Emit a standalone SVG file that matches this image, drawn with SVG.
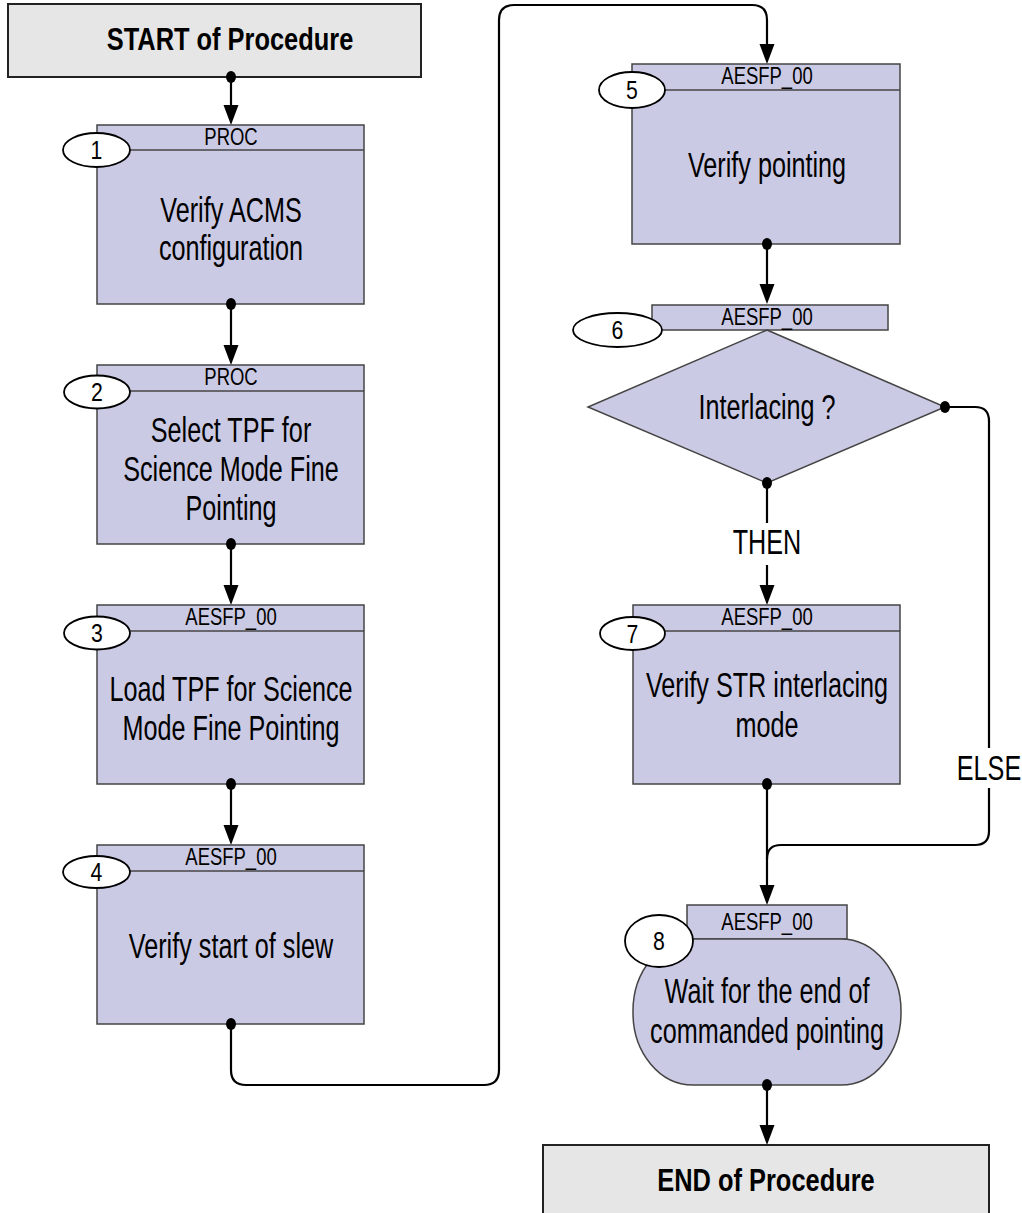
<svg xmlns="http://www.w3.org/2000/svg" width="1022" height="1213" viewBox="0 0 1022 1213">
  <defs>
    <style>
      .term { fill: #e6e6e6; stroke: #222; stroke-width: 2; }
      .step { fill: #cbcae4; stroke: #444; stroke-width: 1.5; }
      .num { fill: #fff; stroke: #000; stroke-width: 1.8; }
      .wire { fill: none; stroke: #000; stroke-width: 2.2; }
      .head { fill: #000; }
      .dot { fill: #000; }
      text { font-family: "Liberation Sans", Arial, sans-serif; fill: #000; text-anchor: middle; }
      .title { font-size: 31px; font-weight: bold; }
      .body { font-size: 35px; }
      .hdr { font-size: 24px; }
      .n { font-size: 25px; }
      .lbl { font-size: 35px; }
    </style>
  </defs>

  <!-- connectors -->
  <g id="connectors">
    <path class="wire" d="M231,77 V105"/>
    <path class="head" d="M223.5,105 H238.5 L231,125 Z"/>
    <path class="wire" d="M231,304 V345"/>
    <path class="head" d="M223.5,345 H238.5 L231,365 Z"/>
    <path class="wire" d="M231,544 V585"/>
    <path class="head" d="M223.5,585 H238.5 L231,605 Z"/>
    <path class="wire" d="M231,784 V825"/>
    <path class="head" d="M223.5,825 H238.5 L231,845 Z"/>
    <!-- step 4 to step 5 -->
    <path class="wire" d="M231,1024 V1070 Q231,1085 246,1085 H484 Q499,1085 499,1070 V20 Q499,5 514,5 H752 Q767,5 767,20 V44"/>
    <path class="head" d="M759.5,44 H774.5 L767,64 Z"/>
    <path class="wire" d="M767,244 V284"/>
    <path class="head" d="M759.5,284 H774.5 L767,304 Z"/>
    <!-- THEN branch -->
    <path class="wire" d="M767,483 V523"/>
    <path class="wire" d="M767,565 V585"/>
    <path class="head" d="M759.5,585 H774.5 L767,605 Z"/>
    <!-- ELSE branch -->
    <path class="wire" d="M945,407 H975 Q989,407 989,421 V748"/>
    <path class="wire" d="M989,788 V831 Q989,845 975,845 H781 Q767,845 767,859"/>
    <path class="wire" d="M767,784 V885"/>
    <path class="head" d="M759.5,885 H774.5 L767,905 Z"/>
    <path class="wire" d="M767,1085 V1125"/>
    <path class="head" d="M759.5,1125 H774.5 L767,1145 Z"/>
    <text class="lbl" transform="translate(767 554) scale(0.72 1)">THEN</text>
    <text class="lbl" transform="translate(989 780) scale(0.72 1)">ELSE</text>
  </g>

  <!-- start terminal -->
  <g id="start">
    <rect class="term" x="8" y="4" width="413" height="73"/>
    <text class="title" transform="translate(230 50) scale(0.82 1)">START of Procedure</text>
    <ellipse class="dot" cx="231" cy="77" rx="5" ry="6"/>
  </g>

  <!-- step 1 -->
  <g id="step1">
    <rect class="step" x="97" y="125" width="267" height="179"/>
    <line x1="97" y1="150" x2="364" y2="150" stroke="#444" stroke-width="1.5"/>
    <text class="hdr" transform="translate(231 145) scale(0.77 1)">PROC</text>
    <text class="body" transform="translate(231 222) scale(0.72 1)">Verify ACMS</text>
    <text class="body" transform="translate(231 260) scale(0.72 1)">configuration</text>
    <ellipse class="num" cx="96.5" cy="150" rx="33.5" ry="17"/>
    <text class="n" transform="translate(96.5 159) scale(0.85 1)">1</text>
    <ellipse class="dot" cx="231" cy="304" rx="5" ry="6"/>
  </g>

  <!-- step 2 -->
  <g id="step2">
    <rect class="step" x="97" y="365" width="267" height="179"/>
    <line x1="97" y1="391" x2="364" y2="391" stroke="#444" stroke-width="1.5"/>
    <text class="hdr" transform="translate(231 385) scale(0.77 1)">PROC</text>
    <text class="body" transform="translate(231 442) scale(0.72 1)">Select TPF for</text>
    <text class="body" transform="translate(231 481) scale(0.72 1)">Science Mode Fine</text>
    <text class="body" transform="translate(231 520) scale(0.72 1)">Pointing</text>
    <ellipse class="num" cx="97" cy="392" rx="33" ry="16.5"/>
    <text class="n" transform="translate(97 401) scale(0.85 1)">2</text>
    <ellipse class="dot" cx="231" cy="544" rx="5" ry="6"/>
  </g>

  <!-- step 3 -->
  <g id="step3">
    <rect class="step" x="97" y="605" width="267" height="179"/>
    <line x1="97" y1="631" x2="364" y2="631" stroke="#444" stroke-width="1.5"/>
    <text class="hdr" transform="translate(231 625) scale(0.77 1)">AESFP_00</text>
    <text class="body" transform="translate(231 701) scale(0.72 1)">Load TPF for Science</text>
    <text class="body" transform="translate(231 740) scale(0.72 1)">Mode Fine Pointing</text>
    <ellipse class="num" cx="97" cy="633" rx="33" ry="16.5"/>
    <text class="n" transform="translate(97 642) scale(0.85 1)">3</text>
    <ellipse class="dot" cx="231" cy="784" rx="5" ry="6"/>
  </g>

  <!-- step 4 -->
  <g id="step4">
    <rect class="step" x="97" y="845" width="267" height="179"/>
    <line x1="97" y1="871" x2="364" y2="871" stroke="#444" stroke-width="1.5"/>
    <text class="hdr" transform="translate(231 865) scale(0.77 1)">AESFP_00</text>
    <text class="body" transform="translate(231 958) scale(0.72 1)">Verify start of slew</text>
    <ellipse class="num" cx="96.5" cy="872" rx="33.5" ry="16"/>
    <text class="n" transform="translate(96.5 881) scale(0.85 1)">4</text>
    <ellipse class="dot" cx="231" cy="1024" rx="5" ry="6"/>
  </g>

  <!-- step 5 -->
  <g id="step5">
    <rect class="step" x="632" y="64" width="268" height="180"/>
    <line x1="632" y1="90" x2="900" y2="90" stroke="#444" stroke-width="1.5"/>
    <text class="hdr" transform="translate(767 84) scale(0.77 1)">AESFP_00</text>
    <text class="body" transform="translate(767 177) scale(0.72 1)">Verify pointing</text>
    <ellipse class="num" cx="632" cy="90" rx="33" ry="18"/>
    <text class="n" transform="translate(632 99) scale(0.85 1)">5</text>
    <ellipse class="dot" cx="767" cy="244" rx="5" ry="6"/>
  </g>

  <!-- step 6: decision -->
  <g id="step6">
    <rect class="step" x="652" y="305" width="236" height="25"/>
    <text class="hdr" transform="translate(767 325) scale(0.77 1)">AESFP_00</text>
    <polygon class="step" points="767,330 945,407 767,483 588,407"/>
    <text class="body" transform="translate(767 419) scale(0.72 1)">Interlacing ?</text>
    <ellipse class="num" cx="617.5" cy="330" rx="44.5" ry="17"/>
    <text class="n" transform="translate(617.5 339) scale(0.85 1)">6</text>
    <ellipse class="dot" cx="945" cy="407" rx="5" ry="6"/>
    <ellipse class="dot" cx="767" cy="483" rx="5" ry="6"/>
  </g>

  <!-- step 7 -->
  <g id="step7">
    <rect class="step" x="633" y="605" width="267" height="179"/>
    <line x1="633" y1="631" x2="900" y2="631" stroke="#444" stroke-width="1.5"/>
    <text class="hdr" transform="translate(767 625) scale(0.77 1)">AESFP_00</text>
    <text class="body" transform="translate(767 697) scale(0.72 1)">Verify STR interlacing</text>
    <text class="body" transform="translate(767 737) scale(0.72 1)">mode</text>
    <ellipse class="num" cx="632.5" cy="633.5" rx="32.5" ry="16.5"/>
    <text class="n" transform="translate(632.5 642.5) scale(0.85 1)">7</text>
    <ellipse class="dot" cx="767" cy="784" rx="5" ry="6"/>
  </g>

  <!-- step 8 -->
  <g id="step8">
    <rect class="step" x="687" y="905" width="160" height="34"/>
    <text class="hdr" transform="translate(767 930) scale(0.77 1)">AESFP_00</text>
    <rect class="step" x="633" y="939" width="268" height="146" rx="60" ry="72"/>
    <text class="body" transform="translate(767 1003) scale(0.72 1)">Wait for the end of</text>
    <text class="body" transform="translate(767 1043) scale(0.72 1)">commanded pointing</text>
    <ellipse class="num" cx="659" cy="941" rx="34" ry="26"/>
    <text class="n" transform="translate(659 950) scale(0.85 1)">8</text>
    <ellipse class="dot" cx="767" cy="1085" rx="5" ry="6"/>
  </g>

  <!-- end terminal -->
  <g id="end">
    <rect class="term" x="543" y="1145" width="446" height="80"/>
    <text class="title" transform="translate(766 1191) scale(0.82 1)">END of Procedure</text>
  </g>
</svg>
